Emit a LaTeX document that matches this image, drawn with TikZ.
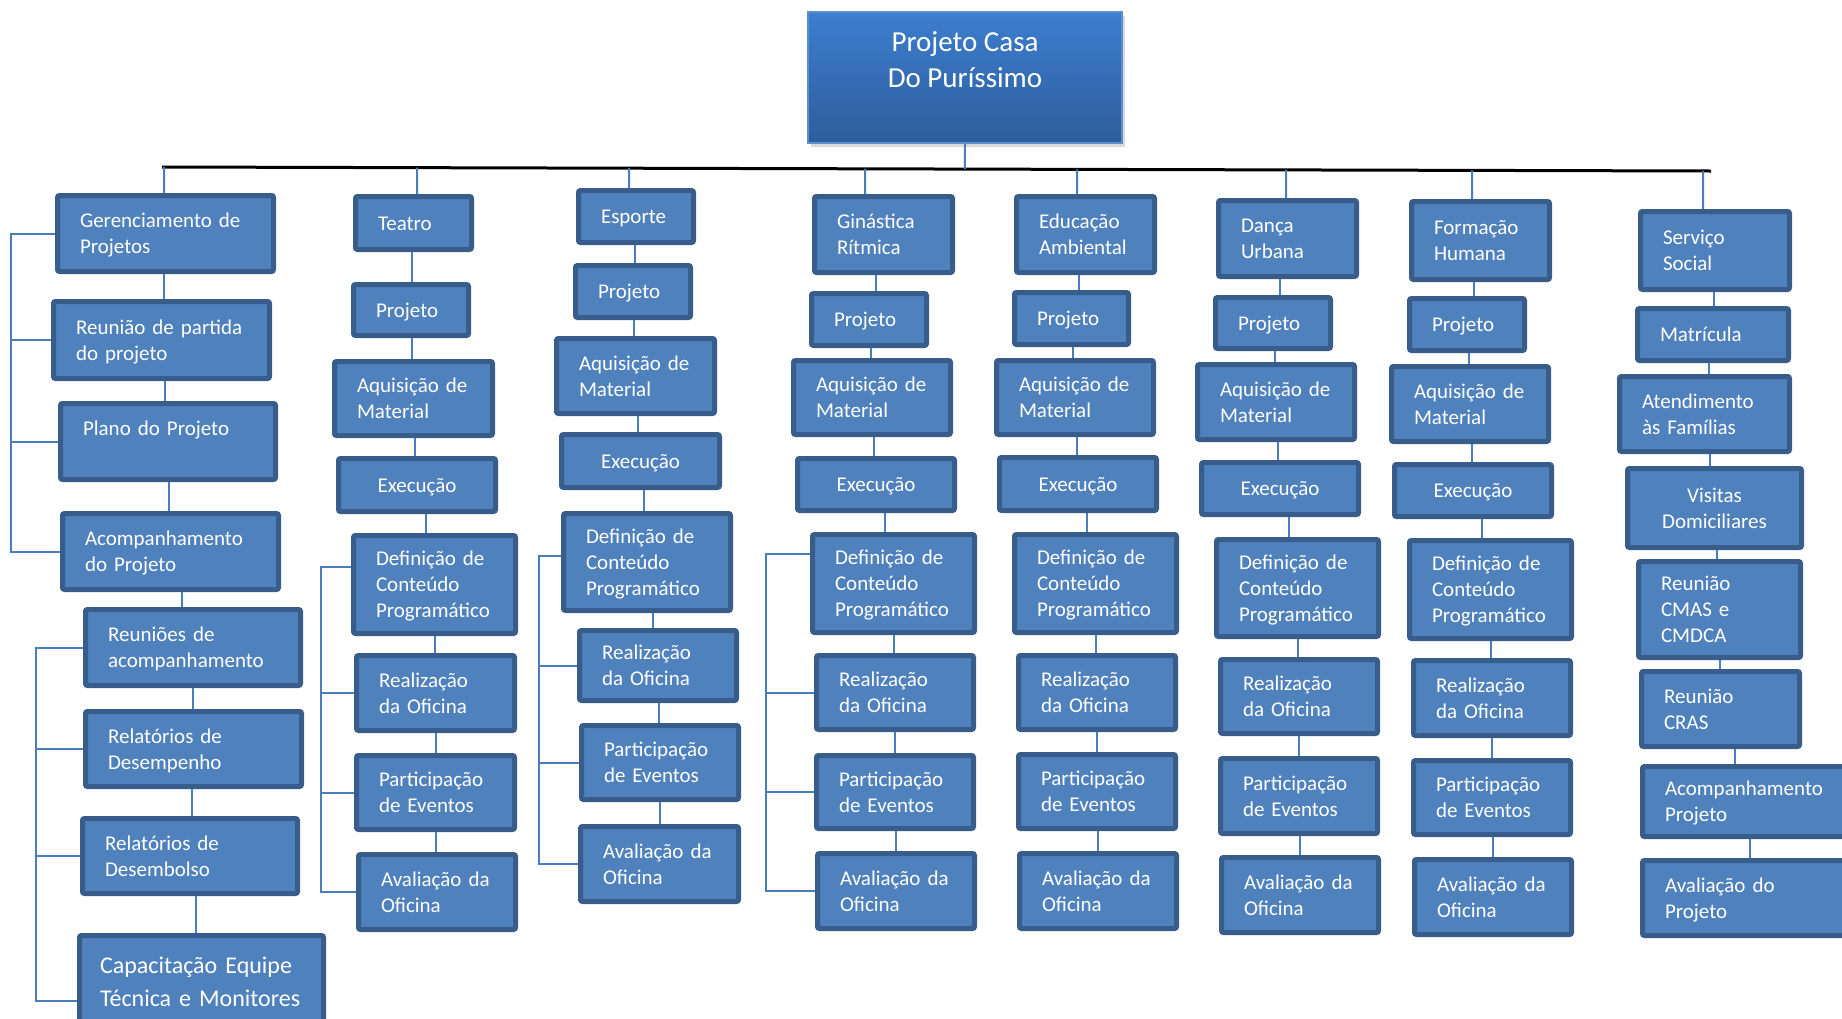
\documentclass[tikz,border=0pt]{standalone}
\usepackage{fontspec}
\setmainfont{Carlito}
\usetikzlibrary{calc,shadows}
\definecolor{boxfill}{HTML}{4F81BD}
\definecolor{boxline}{HTML}{385D8A}
\definecolor{connc}{HTML}{4A7EBB}
\definecolor{roottop}{HTML}{3C7ECF}
\definecolor{rootbot}{HTML}{2E5D9B}
\definecolor{rootline}{HTML}{5C8FCF}
% \bx[opts]{name}{x1}{y1}{x2}{y2}{text}
\newcommand\bx[7][]{%
  \pgfmathsetmacro\bxw{(#5-#3-5)*0.5}%
  \pgfmathsetmacro\bxh{(#6-#4-5)*0.5}%
  \pgfmathsetmacro\bxt{(#5-#3-50)*0.5}%
  \pgfmathsetmacro\bxx{(#3+#5)/2}%
  \pgfmathsetmacro\bxy{(#4+#6)/2}%
  \node[box, align=left, minimum width=\bxw pt, minimum height=\bxh pt, text width=\bxt pt, #1] (#2) at (\bxx,\bxy) {#7};}
\newcommand\vc[2]{\draw[conn] let \p1=(#1.south), \p2=(#2.north) in ({(\x1+\x2)/2},\y1) -- ({(\x1+\x2)/2},\y2);}
\newcommand\hc[2]{\coordinate (#1c) at ([xshift=#2pt]#1.north); \draw[conn] (#1c) -- ($(barL)!(#1c)!(barR)$);}
\newcommand\brk[5]{%
  \draw[conn] (#2) -| (#1 |- #5) -- (#5);
  \draw[conn] (#3) -- (#1 |- #3);
  \draw[conn] (#4) -- (#1 |- #4);}
\begin{document}
\begin{tikzpicture}[x=0.5pt,y=-0.5pt,
  box/.style={rectangle, rounded corners=1pt, draw=boxline, fill=boxfill, line width=2.5pt, inner sep=0pt, text=white, font=\fontsize{10.5}{13}\selectfont,
    execute at begin node={\rule{0pt}{0.952em}}, execute at end node={\rule[-0.269em]{0pt}{0pt}}},
  conn/.style={draw=connc, line width=1pt},
  barline/.style={draw=black, line width=1.5pt},
  rootbox/.style={rectangle, top color=roottop, bottom color=rootbot, draw=rootline, line width=0.8pt, inner sep=0pt, align=center, text=white, font=\fontsize{14.5}{18}\selectfont, drop shadow={shadow xshift=1.5pt, shadow yshift=-2pt, opacity=0.3}}]
\useasboundingbox (0,0) rectangle (1842,1018);

% root
\node[rootbox, minimum width=157.2pt, minimum height=65.7pt] (root) at (965,77.5) {Projeto Casa\\Do Puríssimo\\\mbox{}};

% Gerenciamento column
\bx{g1}{55}{193}{276}{274}{Gerenciamento de\\Projetos}
\bx{g2}{51}{299}{272}{381}{Reunião de partida\\do projeto}
\bx{g3}{58}{401}{278}{482}{Plano do Projeto\\\mbox{}}
\bx{g4}{60}{511}{281}{592}{Acompanhamento\\do Projeto}
\bx{g5}{83}{607}{303}{688}{Reuniões de\\acompanhamento}
\bx{g6}{83}{709}{304}{789}{Relatórios de\\Desempenho}
\bx{g7}{80}{816}{300}{896}{Relatórios de\\Desembolso}
\bx[font=\fontsize{12}{16.5}\selectfont, text width=101.5pt]{g8}{77}{933}{326}{1030}{Capacitação Equipe\\Técnica e Monitores}

% Teatro
\bx{t1}{353}{194}{474}{252}{Teatro}
\bx{t2}{351}{282}{471}{338}{Projeto}
\bx{t3}{332}{359}{495}{438}{Aquisição de\\Material}
\bx[align=center]{t4}{336}{456}{498}{514}{Execução}
\bx{t5}{351}{533}{518}{636}{Definição de\\Conteúdo\\Programático}
\bx{t6}{354}{653}{517}{733}{Realização\\da Oficina}
\bx{t7}{354}{753}{517}{832}{Participação\\de Eventos}
\bx{t8}{356}{852}{518}{932}{Avaliação da\\Oficina}

% Esporte
\bx{e1}{576}{188}{696}{245}{Esporte}
\bx{e2}{573}{263}{693}{320}{Projeto}
\bx{e3}{554}{336}{717}{416}{Aquisição de\\Material}
\bx[align=center]{e4}{559}{432}{722}{490}{Execução}
\bx{e5}{561}{511}{733}{613}{Definição de\\Conteúdo\\Programático}
\bx{e6}{577}{628}{739}{703}{Realização\\da Oficina}
\bx{e7}{579}{723}{741}{802}{Participação\\de Eventos}
\bx{e8}{578}{824}{741}{904}{Avaliação da\\Oficina}

% Ginastica
\bx{r1}{812}{194}{955}{275}{Ginástica\\Rítmica}
\bx{r2}{809}{291}{929}{348}{Projeto}
\bx{r3}{791}{358}{953}{437}{Aquisição de\\Material}
\bx[align=center]{r4}{795}{456}{957}{513}{Execução}
\bx{r5}{810}{532}{977}{635}{Definição de\\Conteúdo\\Programático}
\bx{r6}{814}{653}{976}{732}{Realização\\da Oficina}
\bx{r7}{814}{753}{976}{831}{Participação\\de Eventos}
\bx{r8}{815}{851}{977}{931}{Avaliação da\\Oficina}

% Educacao
\bx{a1}{1014}{194}{1157}{275}{Educação\\Ambiental}
\bx{a2}{1012}{290}{1131}{347}{Projeto}
\bx{a3}{994}{358}{1156}{437}{Aquisição de\\Material}
\bx[align=center]{a4}{997}{455}{1159}{513}{Execução}
\bx{a5}{1012}{532}{1179}{635}{Definição de\\Conteúdo\\Programático}
\bx{a6}{1016}{653}{1178}{732}{Realização\\da Oficina}
\bx{a7}{1016}{752}{1178}{831}{Participação\\de Eventos}
\bx{a8}{1017}{851}{1179}{931}{Avaliação da\\Oficina}

% Danca
\bx{d1}{1216}{198}{1359}{279}{Dança\\Urbana}
\bx{d2}{1213}{295}{1333}{351}{Projeto}
\bx{d3}{1195}{362}{1357}{442}{Aquisição de\\Material}
\bx[align=center]{d4}{1199}{460}{1361}{517}{Execução}
\bx{d5}{1214}{537}{1381}{639}{Definição de\\Conteúdo\\Programático}
\bx{d6}{1218}{657}{1380}{736}{Realização\\da Oficina}
\bx{d7}{1218}{756}{1380}{836}{Participação\\de Eventos}
\bx{d8}{1219}{855}{1381}{935}{Avaliação da\\Oficina}

% Formacao
\bx{f1}{1409}{199}{1552}{282}{Formação\\Humana}
\bx{f2}{1407}{296}{1527}{353}{Projeto}
\bx{f3}{1389}{364}{1551}{444}{Aquisição de\\Material}
\bx[align=center]{f4}{1392}{462}{1554}{519}{Execução}
\bx{f5}{1407}{538}{1574}{641}{Definição de\\Conteúdo\\Programático}
\bx{f6}{1411}{658}{1573}{738}{Realização\\da Oficina}
\bx{f7}{1411}{758}{1573}{837}{Participação\\de Eventos}
\bx{f8}{1412}{857}{1574}{937}{Avaliação da\\Oficina}

% Servico Social
\bx{s1}{1638}{209}{1792}{292}{Serviço\\Social}
\bx{s2}{1635}{306}{1791}{363}{Matrícula}
\bx{s3}{1617}{374}{1792}{454}{Atendimento\\às Famílias}
\bx[align=center]{s4}{1625}{466}{1804}{550}{Visitas\\Domiciliares}
\bx{s5}{1636}{559}{1803}{660}{Reunião\\CMAS e\\CMDCA}
\bx{s6}{1639}{669}{1802}{749}{Reunião\\CRAS}
\bx{s7}{1640}{764}{1860}{839}{Acompanhamento\\Projeto}
\bx{s8}{1640}{858}{1860}{938}{Avaliação do\\Projeto}

% top bar
\coordinate (barL) at (162,167);
\coordinate (barR) at (1711,171);
\draw[barline] (barL) -- (barR);
\draw[conn] (root.south) -- ($(barL)!(root.south)!(barR)$);
\hc{g1}{-0.75}
\hc{t1}{1.75}
\hc{e1}{-3.5}
\hc{r1}{-9.25}
\hc{a1}{-4.25}
\hc{d1}{-0.75}
\hc{f1}{-4.25}
\hc{s1}{-6}

% vertical chains
\foreach \c in {g,t,e,r,a,d,f,s}{
  \foreach \i [evaluate=\i as \j using int(\i+1)] in {1,...,7}{
    \vc{\c\i}{\c\j}
  }
}

% brackets
\coordinate (k1) at (11,0);
\coordinate (k2) at (36,0);
\coordinate (k3) at (321,0);
\coordinate (k4) at (539,0);
\coordinate (k5) at (766,0);
\coordinate (t5w) at ([yshift=8.75pt]t5.west);
\coordinate (e5w) at ([yshift=3pt]e5.west);
\coordinate (r5w) at ([yshift=15pt]r5.west);
\coordinate (g8w) at ([yshift=-9.75pt]g8.west);
\brk{k1}{g1.west}{g2.west}{g3.west}{g4.west}
\brk{k2}{g5.west}{g6.west}{g7.west}{g8w}
\brk{k3}{t5w}{t6.west}{t7.west}{t8.west}
\brk{k4}{e5w}{e6.west}{e7.west}{e8.west}
\brk{k5}{r5w}{r6.west}{r7.west}{r8.west}
\end{tikzpicture}
\end{document}
